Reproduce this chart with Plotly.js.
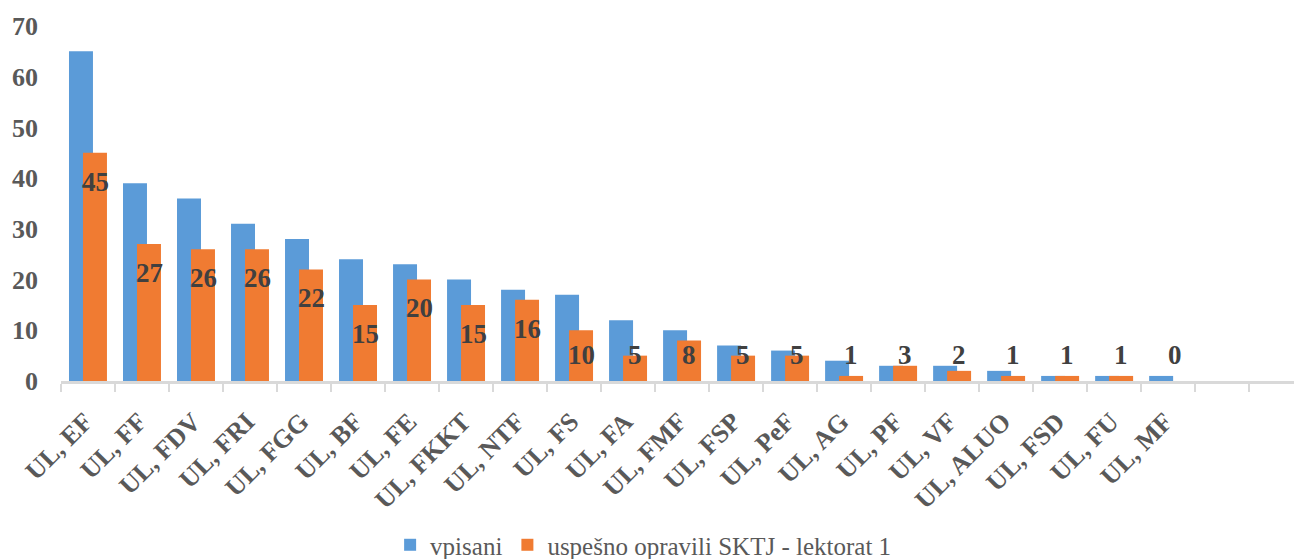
<!DOCTYPE html>
<html>
<head>
<meta charset="utf-8">
<script src="https://cdn.plot.ly/plotly-3.0.1.min.js"></script>
<style>html,body{margin:0;padding:0;overflow:hidden;background:#fff}</style>
</head>
<body>
<div id="chart" style="width:1294px;height:559px"></div>
<script>
const categories = ["UL, EF","UL, FF","UL, FDV","UL, FRI","UL, FGG","UL, BF","UL, FE","UL, FKKT","UL, NTF","UL, FS","UL, FA","UL, FMF","UL, FSP","UL, PeF","UL, AG","UL, PF","UL, VF","UL, ALUO","UL, FSD","UL, FU","UL, MF"];
const vpisani = [65,39,36,31,28,24,23,20,18,17,12,10,7,6,4,3,3,2,1,1,1];
const uspesno = [45,27,26,26,22,15,20,15,16,10,5,8,5,5,1,3,2,1,1,1,0];
const seriesNames = ["vpisani","uspešno opravili SKTJ - lektorat 1"];
const yTicks = [0,10,20,30,40,50,60,70];
const emptySlots = ["\u200b", "\u200b\u200b"];

const serif = "Liberation Serif";

const traceBlue = {
  type: "bar", x: categories, y: vpisani, name: seriesNames[0],
  offset: -0.352, width: 0.444,
  marker: {color: "#5b9bd8"}, hoverinfo: "x+y"
};
const traceOrange = {
  type: "bar", x: categories, y: uspesno, name: seriesNames[1],
  offset: -0.093, width: 0.444,
  marker: {color: "#f07b32"}, hoverinfo: "x+y"
};

const annotations = categories.map((c, i) => ({
  x: c, y: Math.max(uspesno[i] - 5.7, 5.1), xref: "x", yref: "y",
  text: String(uspesno[i]), showarrow: false, xshift: 7,
  yanchor: "middle", xanchor: "center",
  font: {family: serif, size: 27, color: "#404040", weight: "bold"}
}));

const layout = {
  width: 1294, height: 559,
  margin: {l: 61, r: 0, t: 26, b: 178},
  barmode: "overlay",
  font: {family: serif, color: "#595959"},
  paper_bgcolor: "#fff", plot_bgcolor: "#fff",
  showlegend: true,
  legend: {
    orientation: "h", xref: "container", yref: "container",
    x: 0.497, xanchor: "center", y: 0.025, yanchor: "middle",
    font: {family: serif, size: 25, color: "#595959"},
    itemclick: false
  },
  xaxis: {
    type: "category", range: [-0.5, 22.33],
    categoryorder: "array", categoryarray: categories.concat(emptySlots),
    tickson: "boundaries", ticks: "outside", ticklen: 8, tickwidth: 2, tickcolor: "#d9d9d9",
    showline: true, linecolor: "#d9d9d9", linewidth: 3,
    tickangle: -45, showgrid: false, zeroline: false,
    ticklabelstandoff: 12, ticklabelshift: -3,
    tickfont: {family: serif, size: 26, color: "#595959", weight: "bold"},
    automargin: false
  },
  yaxis: {
    range: [0, 70], tickvals: yTicks, ticktext: yTicks.map(String),
    showgrid: false, zeroline: false, showline: false, ticks: "",
    ticklabelstandoff: 22,
    tickfont: {family: serif, size: 26, color: "#595959", weight: "bold"},
    automargin: false
  },
  annotations: annotations
};

Plotly.newPlot("chart", [traceBlue, traceOrange], layout, {displayModeBar: false, staticPlot: true});
</script>
</body>
</html>
